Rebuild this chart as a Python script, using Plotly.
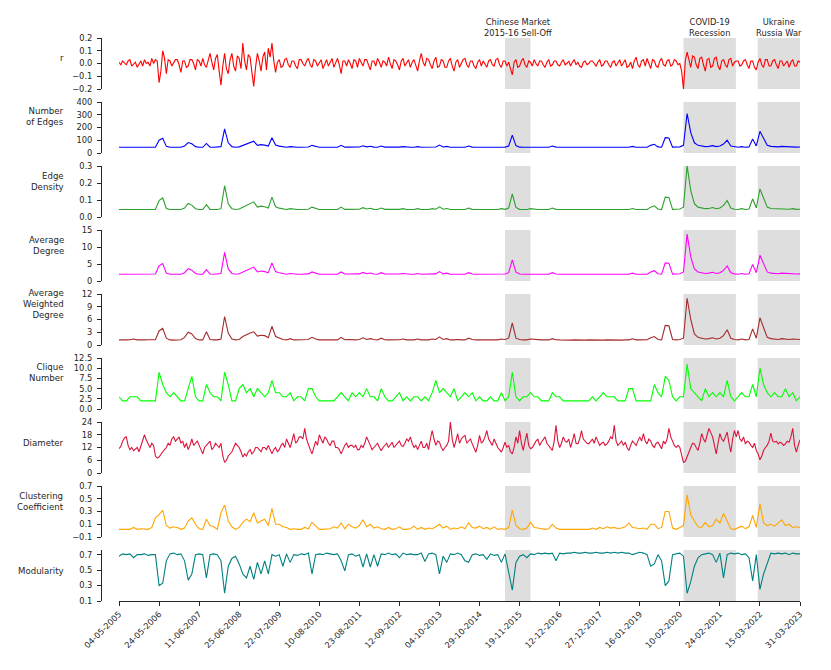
import plotly.graph_objects as go

# ---------------- data ----------------
# weekly index (0 = 04-05-2005 ... 935 = 31-03-2023)
week_index = list(range(0, 936, 5))          # sampled every 5 weeks
fine_index = [k * 2.5 for k in range(375)]   # sampled every 2.5 weeks (noisy series)

tick_positions = list(range(0, 936, 55))
tick_labels = ['04-05-2005', '24-05-2006', '11-06-2007', '25-06-2008', '22-07-2009',
               '10-08-2010', '23-08-2011', '12-09-2012', '04-10-2013', '29-10-2014',
               '19-11-2015', '12-12-2016', '27-12-2017', '16-01-2019', '10-02-2020',
               '24-02-2021', '15-03-2022', '31-03-2023']

crisis_start = [530, 775, 877]
crisis_end = [565, 847, 935]
crisis_names = ['Chinese Market<br>2015-16 Sell-Off', 'COVID-19<br>Recession', 'Ukraine<br>Russia War']

r_values = [
    0.01, -0.01, 0.02, 0.00, -0.01, 0.02, 0.03, -0.02, 0.00, 0.01, -0.03, -0.01, 0.02, -0.02, 0.03, 0.00, 0.01, -0.02, 0.04, 0.00,
    0.03, 0.02, -0.15, -0.06, 0.10, 0.04, -0.08, 0.03, 0.02, -0.02, 0.01, 0.03, 0.03, -0.01, -0.07, 0.02, 0.02, -0.03, -0.02, 0.03,
    0.03, 0.00, -0.05, 0.03, 0.02, -0.02, 0.04, -0.01, -0.03, 0.03, 0.08, 0.01, -0.05, 0.04, 0.07, -0.06, -0.17, -0.02, 0.08, -0.04,
    -0.08, 0.03, 0.08, -0.02, -0.06, 0.06, 0.04, -0.04, 0.16, 0.02, -0.05, 0.07, 0.05, -0.07, -0.18, -0.03, 0.08, 0.02, -0.06, 0.05,
    0.09, -0.05, 0.12, 0.05, 0.16, 0.02, -0.07, 0.01, 0.03, -0.03, -0.02, 0.03, 0.04, -0.01, -0.03, 0.02, 0.02, -0.02, -0.04, 0.03,
    0.03, 0.00, -0.02, 0.02, 0.04, -0.01, -0.03, 0.03, 0.02, -0.02, 0.00, 0.03, -0.04, 0.00, 0.03, -0.02, 0.01, 0.04, -0.03, 0.01,
    0.04, -0.01, -0.08, 0.02, 0.02, -0.02, 0.03, 0.00, -0.04, 0.03, 0.02, -0.03, 0.04, 0.01, -0.02, 0.03, 0.03, -0.01, -0.05, 0.02,
    0.02, -0.02, 0.04, 0.01, -0.03, 0.02, 0.01, -0.02, 0.05, 0.00, -0.04, 0.03, 0.02, -0.01, -0.05, 0.02, 0.04, -0.02, 0.01, 0.03,
    -0.03, 0.01, 0.03, -0.02, -0.06, 0.02, 0.08, 0.01, -0.02, 0.04, 0.03, -0.01, -0.04, 0.02, 0.05, -0.03, -0.02, 0.03, 0.02, -0.03,
    -0.03, 0.02, 0.04, -0.02, -0.06, 0.01, 0.03, -0.03, 0.00, 0.03, 0.04, -0.01, -0.03, 0.02, 0.02, -0.02, -0.04, 0.01, 0.03, -0.02,
    0.02, 0.00, -0.03, 0.02, 0.03, -0.01, -0.02, 0.03, 0.04, -0.01, -0.03, 0.02, 0.02, -0.02, 0.01, -0.04, -0.09, 0.01, 0.03, -0.03,
    -0.02, 0.02, 0.04, -0.01, -0.03, 0.02, 0.01, -0.02, 0.03, 0.00, -0.02, 0.02, 0.02, -0.01, -0.03, 0.01, 0.03, -0.02, -0.01, 0.02,
    0.02, -0.01, -0.02, 0.01, 0.03, -0.01, 0.00, 0.02, -0.02, 0.01, 0.03, -0.01, 0.01, -0.02, -0.03, 0.01, 0.02, -0.01, 0.00, 0.02,
    0.02, 0.00, -0.02, 0.01, 0.03, -0.02, -0.01, 0.02, 0.02, -0.01, -0.03, 0.01, 0.02, -0.02, 0.01, 0.03, -0.02, 0.01, 0.03, -0.03,
    -0.02, 0.01, -0.04, 0.02, 0.05, -0.01, -0.03, 0.02, 0.03, -0.02, 0.04, 0.00, -0.04, 0.03, 0.02, -0.02, -0.03, 0.02, 0.04, -0.01,
    -0.02, 0.02, 0.03, -0.02, -0.01, 0.03, 0.02, -0.01, 0.00, -0.06, -0.20, 0.02, 0.09, 0.03, -0.03, 0.06, 0.05, -0.01, -0.04, 0.04,
    0.05, -0.01, -0.06, 0.03, 0.04, -0.03, -0.02, 0.04, 0.05, -0.02, -0.05, 0.02, 0.03, -0.01, -0.03, 0.03, 0.04, -0.02, 0.01, 0.02,
    0.02, -0.02, -0.01, 0.02, 0.03, -0.01, -0.04, 0.02, 0.02, -0.03, -0.05, 0.01, 0.04, -0.01, -0.03, 0.03, 0.03, -0.02, -0.02, 0.02,
    0.03, -0.01, -0.04, 0.02, 0.02, -0.02, 0.00, 0.02, -0.03, 0.01, 0.03, -0.02, -0.02, 0.02, 0.01]

edges = [
    45, 45, 45, 45, 46, 45, 45, 45, 45, 45,
    46, 100, 115, 52, 45, 45, 45, 45, 55, 82,
    72, 50, 45, 45, 75, 46, 45, 45, 50, 190,
    80, 50, 45, 48, 60, 72, 80, 92, 60, 66,
    62, 55, 120, 62, 54, 48, 45, 50, 46, 45,
    45, 45, 47, 60, 50, 45, 45, 45, 45, 46,
    45, 60, 46, 46, 45, 45, 47, 57, 48, 53,
    46, 45, 55, 46, 45, 45, 45, 46, 50, 45,
    45, 45, 50, 45, 45, 45, 50, 47, 62, 47,
    52, 45, 45, 46, 45, 45, 55, 46, 45, 45,
    45, 46, 45, 45, 45, 50, 46, 55, 140, 58,
    46, 45, 45, 50, 46, 45, 45, 45, 45, 55,
    46, 45, 45, 45, 45, 45, 45, 45, 45, 45,
    45, 45, 45, 45, 45, 45, 45, 45, 45, 45,
    45, 52, 45, 45, 45, 45, 60, 68, 48, 45,
    120, 118, 46, 45, 48, 60, 310, 160, 80, 60,
    55, 50, 52, 58, 50, 55, 70, 100, 55, 47,
    45, 50, 45, 48, 110, 55, 170, 115, 60, 52,
    50, 48, 52, 50, 47, 50, 46, 47]

edge_density = [
    .044, .044, .044, .044, .045, .044, .044, .044, .044, .044,
    .045, .097, .112, .050, .044, .044, .044, .044, .053, .080,
    .070, .049, .044, .044, .073, .045, .044, .044, .049, .184,
    .078, .049, .044, .047, .058, .070, .078, .089, .058, .064,
    .060, .053, .117, .060, .052, .047, .044, .049, .045, .044,
    .044, .044, .046, .058, .049, .044, .044, .044, .044, .045,
    .044, .058, .045, .045, .044, .044, .046, .055, .047, .051,
    .045, .044, .053, .045, .044, .044, .044, .045, .049, .044,
    .044, .044, .049, .044, .044, .044, .049, .046, .060, .046,
    .050, .044, .044, .045, .044, .044, .053, .045, .044, .044,
    .044, .045, .044, .044, .044, .049, .045, .053, .136, .056,
    .045, .044, .044, .049, .045, .044, .044, .044, .044, .053,
    .045, .044, .044, .044, .044, .044, .044, .044, .044, .044,
    .044, .044, .044, .044, .044, .044, .044, .044, .044, .044,
    .044, .050, .044, .044, .044, .044, .058, .066, .047, .044,
    .117, .115, .045, .044, .047, .058, .301, .155, .078, .058,
    .053, .049, .050, .056, .049, .053, .068, .097, .053, .046,
    .044, .049, .044, .047, .107, .053, .165, .112, .058, .050,
    .049, .047, .050, .049, .046, .049, .045, .046]

average_degree = [
    2.00, 2.00, 2.00, 2.00, 2.04, 2.00, 2.00, 2.00, 2.00, 2.00,
    2.04, 4.44, 5.11, 2.31, 2.00, 2.00, 2.00, 2.00, 2.44, 3.64,
    3.20, 2.22, 2.00, 2.00, 3.33, 2.04, 2.00, 2.00, 2.22, 8.44,
    3.56, 2.22, 2.00, 2.13, 2.67, 3.20, 3.56, 4.09, 2.67, 2.93,
    2.76, 2.44, 5.33, 2.76, 2.40, 2.13, 2.00, 2.22, 2.04, 2.00,
    2.00, 2.00, 2.09, 2.67, 2.22, 2.00, 2.00, 2.00, 2.00, 2.04,
    2.00, 2.67, 2.04, 2.04, 2.00, 2.00, 2.09, 2.53, 2.13, 2.36,
    2.04, 2.00, 2.44, 2.04, 2.00, 2.00, 2.00, 2.04, 2.22, 2.00,
    2.00, 2.00, 2.22, 2.00, 2.00, 2.00, 2.22, 2.09, 2.76, 2.09,
    2.31, 2.00, 2.00, 2.04, 2.00, 2.00, 2.44, 2.04, 2.00, 2.00,
    2.00, 2.04, 2.00, 2.00, 2.00, 2.22, 2.04, 2.44, 6.22, 2.58,
    2.04, 2.00, 2.00, 2.22, 2.04, 2.00, 2.00, 2.00, 2.00, 2.44,
    2.04, 2.00, 2.00, 2.00, 2.00, 2.00, 2.00, 2.00, 2.00, 2.00,
    2.00, 2.00, 2.00, 2.00, 2.00, 2.00, 2.00, 2.00, 2.00, 2.00,
    2.00, 2.31, 2.00, 2.00, 2.00, 2.00, 2.67, 3.02, 2.13, 2.00,
    5.33, 5.24, 2.04, 2.00, 2.13, 2.67, 13.78, 7.11, 3.56, 2.67,
    2.44, 2.22, 2.31, 2.58, 2.22, 2.44, 3.11, 4.44, 2.44, 2.09,
    2.00, 2.22, 2.00, 2.13, 4.89, 2.44, 7.56, 5.11, 2.67, 2.31,
    2.22, 2.13, 2.31, 2.22, 2.09, 2.22, 2.04, 2.09]

weighted_degree = [
    1.2, 1.15, 1.2, 1.25, 1.4, 1.2, 1.15, 1.2, 1.25, 1.2,
    1.25, 3.3, 3.9, 1.6, 1.2, 1.15, 1.2, 1.25, 1.8, 3.0,
    2.6, 1.5, 1.2, 1.2, 3.1, 1.3, 1.2, 1.2, 1.4, 6.7,
    2.8, 1.4, 1.2, 1.3, 2.0, 2.5, 2.8, 3.1, 2.1, 2.3,
    2.2, 1.7, 4.4, 2.0, 1.6, 1.3, 1.2, 1.5, 1.2, 1.2,
    1.2, 1.2, 1.3, 1.8, 1.4, 1.2, 1.2, 1.2, 1.15, 1.2,
    1.2, 1.8, 1.25, 1.3, 1.2, 1.2, 1.3, 1.7, 1.3, 1.5,
    1.3, 1.2, 1.6, 1.25, 1.2, 1.2, 1.2, 1.25, 1.4, 1.2,
    1.2, 1.2, 1.4, 1.2, 1.2, 1.2, 1.4, 1.3, 1.9, 1.3,
    1.5, 1.2, 1.2, 1.3, 1.2, 1.2, 1.6, 1.3, 1.2, 1.2,
    1.2, 1.25, 1.2, 1.2, 1.2, 1.4, 1.3, 1.6, 5.2, 1.6,
    1.3, 1.2, 1.2, 1.4, 1.3, 1.2, 1.2, 1.2, 1.2, 1.5,
    1.25, 1.2, 1.15, 1.2, 1.15, 1.2, 1.15, 1.2, 1.15, 1.2,
    1.15, 1.2, 1.15, 1.15, 1.2, 1.15, 1.2, 1.2, 1.15, 1.2,
    1.2, 1.45, 1.2, 1.2, 1.2, 1.25, 1.7, 2.0, 1.3, 1.2,
    4.6, 4.5, 1.3, 1.2, 1.3, 1.6, 11.0, 6.0, 2.6, 1.8,
    1.6, 1.4, 1.5, 1.7, 1.4, 1.6, 2.2, 3.6, 1.6, 1.3,
    1.2, 1.4, 1.2, 1.3, 3.8, 1.6, 6.4, 4.2, 1.8, 1.5,
    1.4, 1.3, 1.5, 1.4, 1.3, 1.4, 1.3, 1.3]

clique_number = [
    3, 2, 2, 3, 3, 3, 2, 2, 2, 2,
    2, 9, 6, 4, 3, 4, 3, 2, 2, 5,
    8, 3, 2, 2, 6, 4, 3, 3, 2, 9,
    6, 2, 2, 5, 6, 4, 5, 3, 5, 4,
    3, 4, 7, 4, 4, 3, 3, 4, 2, 3,
    3, 2, 5, 5, 3, 2, 2, 2, 2, 2,
    3, 4, 3, 2, 4, 3, 4, 3, 5, 3,
    3, 2, 5, 3, 2, 2, 3, 4, 2, 3,
    2, 3, 3, 2, 3, 2, 4, 7, 4, 5,
    4, 3, 5, 2, 3, 4, 3, 4, 2, 3,
    2, 2, 3, 2, 2, 4, 2, 3, 9, 3,
    2, 3, 3, 4, 3, 3, 2, 2, 2, 4,
    3, 3, 2, 2, 2, 2, 2, 2, 2, 2,
    3, 2, 3, 4, 3, 3, 3, 2, 2, 2,
    5, 5, 2, 2, 2, 2, 2, 6, 4, 3,
    8, 7, 3, 2, 3, 3, 11, 5, 4, 3,
    2, 5, 3, 4, 3, 4, 3, 7, 3, 2,
    3, 4, 3, 3, 6, 3, 10, 6, 4, 3,
    4, 3, 3, 5, 3, 4, 2, 3]

diameter = [
    11.5, 12.5, 15, 16.5, 17, 13, 11, 12, 10.5, 11.5, 12, 10, 13, 15, 18, 15.5, 14, 12, 14, 13,
    8, 7, 7.5, 9, 10, 11, 12, 14, 13, 16, 17, 15, 16, 17, 14, 15, 12, 14, 11, 13,
    16, 13, 14, 15, 13, 11, 9, 12, 13, 14, 15, 11, 12, 14, 13, 12, 14, 8, 5, 6,
    8, 9, 10, 12, 14, 13, 12, 10, 7.5, 9, 8, 10, 11, 9, 10, 12, 12, 11, 10, 12,
    12, 11, 13, 11, 9, 11, 12, 10, 11, 13, 14, 12, 16, 14, 12, 15, 18.5, 14, 15, 17,
    17, 16, 21, 16, 13, 11, 9, 12, 15, 13, 18, 16, 14, 17, 16, 14, 13, 15, 15, 12,
    12, 11, 9, 11, 13, 14, 12, 13, 13, 12, 13, 11, 11, 13, 12, 14, 17, 15, 13, 11,
    12, 13, 14, 12, 10.5, 12, 13, 14, 12, 13, 14.5, 12, 13, 14, 15, 13, 12.5, 14, 16, 15,
    17, 14, 12, 13, 11, 13, 15, 12, 12, 14, 11, 16, 20, 16, 13, 15, 14.5, 12, 10.6, 12,
    13, 15, 24, 16, 12, 15, 18.5, 14, 16, 17, 17.7, 14, 15, 16, 13.7, 12, 9.8, 13, 17.7, 14,
    15, 17, 20, 16, 14.5, 13, 16, 14, 12, 11, 9.8, 12, 14.5, 12, 13, 10, 9, 12, 17, 14,
    20, 14, 10.6, 15, 18.8, 13, 11.4, 12, 13.7, 15, 16, 13, 14.5, 16, 17, 14, 13, 12, 10.6, 15,
    22.4, 15, 12, 14, 17, 15, 14.5, 16, 12, 15, 18.5, 14, 13.7, 16, 20, 16, 15, 14, 13.7, 15,
    16, 14, 17, 15, 13, 14, 14.5, 13, 13.7, 15, 17, 16, 22.4, 15, 13, 14, 15, 13, 14.5, 12,
    10.6, 13, 15, 14, 13, 15, 17, 15, 18.5, 15, 13.7, 16, 15, 13, 12, 14, 14.5, 13, 11.4, 15,
    13.7, 16, 21, 17, 14.5, 13, 12, 13, 12, 8, 5, 5.5, 7.4, 10, 12, 14, 13.7, 12, 10.6, 14,
    18.5, 16, 14.5, 18, 21, 19, 17, 13, 9, 14, 18.5, 16, 15, 17, 19.3, 14, 9.8, 16, 20, 17,
    20, 16, 15, 17, 13.7, 15, 14.5, 13, 12, 14, 10.6, 9, 6.2, 8, 10.6, 12, 13, 15, 18.8, 15,
    14.5, 15, 13.7, 14.5, 14, 13, 13.7, 15, 14.5, 17, 21, 13, 9.8, 13, 15.6]

clustering = [
    0.02, 0.02, 0.02, 0.02, 0.05, 0.02, 0.03, 0.02, 0.02, 0.05,
    0.20, 0.25, 0.32, 0.08, 0.04, 0.06, 0.05, 0.02, 0.04, 0.15,
    0.20, 0.10, 0.03, 0.02, 0.18, 0.08, 0.06, 0.02, 0.28, 0.40,
    0.15, 0.06, 0.02, 0.05, 0.13, 0.18, 0.14, 0.28, 0.12, 0.15,
    0.18, 0.08, 0.35, 0.10, 0.10, 0.06, 0.05, 0.02, 0.03, 0.02,
    0.02, 0.05, 0.03, 0.13, 0.08, 0.02, 0.02, 0.02, 0.03, 0.06,
    0.04, 0.12, 0.03, 0.10, 0.06, 0.04, 0.08, 0.17, 0.06, 0.10,
    0.04, 0.06, 0.03, 0.02, 0.05, 0.02, 0.03, 0.06, 0.02, 0.02,
    0.03, 0.07, 0.02, 0.05, 0.02, 0.04, 0.03, 0.06, 0.10, 0.04,
    0.07, 0.02, 0.04, 0.03, 0.06, 0.03, 0.12, 0.05, 0.04, 0.07,
    0.03, 0.05, 0.02, 0.06, 0.02, 0.03, 0.02, 0.05, 0.32, 0.08,
    0.03, 0.02, 0.04, 0.13, 0.05, 0.04, 0.03, 0.02, 0.03, 0.10,
    0.04, 0.02, 0.02, 0.02, 0.02, 0.02, 0.02, 0.02, 0.02, 0.02,
    0.04, 0.02, 0.05, 0.03, 0.06, 0.04, 0.05, 0.03, 0.04, 0.06,
    0.12, 0.05, 0.04, 0.03, 0.04, 0.02, 0.10, 0.10, 0.03, 0.05,
    0.30, 0.30, 0.04, 0.02, 0.05, 0.08, 0.56, 0.25, 0.15, 0.06,
    0.05, 0.13, 0.06, 0.08, 0.18, 0.12, 0.27, 0.15, 0.03, 0.02,
    0.04, 0.07, 0.03, 0.06, 0.24, 0.05, 0.42, 0.12, 0.08, 0.10,
    0.07, 0.12, 0.17, 0.08, 0.10, 0.05, 0.06, 0.05]

modularity = [
    0.68, 0.71, 0.70, 0.71, 0.66, 0.70, 0.70, 0.71, 0.69, 0.70,
    0.70, 0.30, 0.33, 0.62, 0.71, 0.72, 0.70, 0.71, 0.62, 0.37,
    0.45, 0.70, 0.71, 0.70, 0.40, 0.70, 0.71, 0.70, 0.62, 0.20,
    0.55, 0.65, 0.68, 0.58, 0.45, 0.40, 0.55, 0.38, 0.60, 0.45,
    0.62, 0.45, 0.70, 0.68, 0.70, 0.55, 0.71, 0.60, 0.70, 0.69,
    0.71, 0.70, 0.72, 0.45, 0.70, 0.71, 0.70, 0.72, 0.71, 0.70,
    0.71, 0.62, 0.49, 0.70, 0.71, 0.68, 0.70, 0.54, 0.71, 0.54,
    0.70, 0.55, 0.71, 0.70, 0.72, 0.70, 0.71, 0.66, 0.72, 0.70,
    0.71, 0.70, 0.70, 0.72, 0.61, 0.71, 0.72, 0.70, 0.45, 0.68,
    0.60, 0.71, 0.70, 0.72, 0.70, 0.62, 0.60, 0.70, 0.71, 0.69,
    0.70, 0.64, 0.71, 0.69, 0.70, 0.60, 0.71, 0.45, 0.24, 0.60,
    0.68, 0.70, 0.66, 0.71, 0.70, 0.72, 0.71, 0.72, 0.71, 0.72,
    0.62, 0.72, 0.71, 0.72, 0.72, 0.73, 0.72, 0.72, 0.73, 0.72,
    0.72, 0.73, 0.72, 0.72, 0.73, 0.72, 0.73, 0.72, 0.73, 0.72,
    0.72, 0.70, 0.72, 0.73, 0.72, 0.70, 0.55, 0.58, 0.70, 0.62,
    0.30, 0.36, 0.70, 0.71, 0.72, 0.68, 0.20, 0.35, 0.55, 0.66,
    0.70, 0.71, 0.72, 0.70, 0.60, 0.72, 0.40, 0.70, 0.72, 0.71,
    0.72, 0.70, 0.71, 0.66, 0.36, 0.70, 0.25, 0.45, 0.60, 0.72,
    0.71, 0.72, 0.71, 0.72, 0.70, 0.72, 0.71, 0.71]

# ---------------- panel configuration ----------------
panel_labels = ['r', 'Number<br>of Edges', 'Edge<br>Density', 'Average<br>Degree',
                'Average<br>Weighted<br>Degree', 'Clique<br>Number', 'Diameter',
                'Clustering<br>Coefficient', 'Modularity']
panel_data = [r_values, edges, edge_density, average_degree, weighted_degree,
              clique_number, diameter, clustering, modularity]
panel_x = [fine_index, week_index, week_index, week_index, week_index,
           week_index, fine_index, week_index, week_index]
panel_colors = ['#ff0000', '#0000ff', '#2ca02c', '#ff00ff', '#a52a2a',
                '#00ff00', '#dc143c', '#ffa500', '#008080']
panel_ranges = [[-0.2, 0.2], [0, 400], [0, 0.3], [0, 15], [0, 12],
                [0, 12.5], [0, 24], [-0.1, 0.7], [0.1, 0.76]]
panel_ticks = [[-0.2, -0.1, 0.0, 0.1, 0.2], [0, 100, 200, 300, 400], [0, 0.1, 0.2, 0.3],
               [0, 5, 10, 15], [0, 3, 6, 9, 12], [0, 2.5, 5, 7.5, 10, 12.5],
               [0, 6, 12, 18, 24], [-0.1, 0.1, 0.3, 0.5, 0.7], [0.1, 0.3, 0.5, 0.7]]
panel_ticktext = [['\u22120.2', '\u22120.1', '0.0', '0.1', '0.2'], ['0', '100', '200', '300', '400'],
                  ['0.0', '0.1', '0.2', '0.3'], ['0', '5', '10', '15'], ['0', '3', '6', '9', '12'],
                  ['0.0', '2.5', '5.0', '7.5', '10.0', '12.5'], ['0', '6', '12', '18', '24'],
                  ['\u22120.1', '0.1', '0.3', '0.5', '0.7'], ['0.1', '0.3', '0.5', '0.7']]

# ---------------- layout geometry ----------------
W, H = 831, 670
ML, MR, MT, MB = 101, 31, 38, 69
plot_w = W - ML - MR
plot_h = H - MT - MB
panel_h = 51
panel_step = 64
x_start = 18 / plot_w

FONT = 'DejaVu Sans'
AX_COLOR = '#262626'

fig = go.Figure()
layout = dict(
    width=W, height=H,
    margin=dict(l=ML, r=MR, t=MT, b=MB),
    paper_bgcolor='white', plot_bgcolor='white',
    showlegend=False,
    font=dict(family=FONT, size=8, color=AX_COLOR),
)

shapes = []
annotations = []
n = len(panel_data)
for i in range(n):
    ykey = 'y' if i == 0 else f'y{i+1}'
    axkey = 'yaxis' if i == 0 else f'yaxis{i+1}'
    top = plot_h - panel_step * i
    lo = (top - panel_h) / plot_h
    hi = top / plot_h
    fig.add_trace(go.Scatter(x=panel_x[i], y=panel_data[i], mode='lines',
                             line=dict(color=panel_colors[i], width=1.1),
                             xaxis='x', yaxis=ykey, hoverinfo='skip'))
    layout[axkey] = dict(
        domain=[lo, hi], anchor='free', position=0,
        range=panel_ranges[i], tickmode='array',
        tickvals=panel_ticks[i], ticktext=panel_ticktext[i],
        showline=True, linecolor=AX_COLOR, linewidth=1,
        ticks='outside', ticklen=4, tickwidth=1, tickcolor=AX_COLOR,
        ticklabelstandoff=3,
        tickfont=dict(family=FONT, size=8.3, color=AX_COLOR),
        showgrid=False, zeroline=False,
    )
    for s, e in zip(crisis_start, crisis_end):
        shapes.append(dict(type='rect', xref='x', yref=f'{ykey} domain',
                           x0=s, x1=e, y0=0, y1=1, fillcolor='#dedede',
                           line=dict(width=0), layer='below'))
    annotations.append(dict(text=panel_labels[i], xref='paper', yref='paper',
                            x=-35 / plot_w, y=(lo + hi) / 2, xanchor='right',
                            yanchor='bottom', align='right', showarrow=False,
                            yshift=-2,
                            font=dict(family=FONT, size=8.6, color=AX_COLOR)))

for s, e, name in zip(crisis_start, crisis_end, crisis_names):
    annotations.append(dict(text=name, xref='x', yref='paper', x=(s + e) / 2, y=1,
                            xanchor='center', yanchor='bottom', align='center',
                            showarrow=False, yshift=-2,
                            font=dict(family=FONT, size=8.3, color=AX_COLOR)))

layout['xaxis'] = dict(
    domain=[x_start, 1], range=[0, 935], anchor=f'y{n}',
    tickmode='array', tickvals=tick_positions, ticktext=tick_labels,
    tickangle=-45, showline=True, linecolor=AX_COLOR, linewidth=1,
    ticks='outside', ticklen=4, tickwidth=1, tickcolor=AX_COLOR,
    tickfont=dict(family=FONT, size=8.3, color=AX_COLOR),
    showgrid=False, zeroline=False,
)
layout['shapes'] = shapes
layout['annotations'] = annotations
fig.update_layout(**layout)

fig.write_html('out.html', config={'displayModeBar': False},
               post_script="document.body.style.margin='0px';document.body.style.padding='0px';")
